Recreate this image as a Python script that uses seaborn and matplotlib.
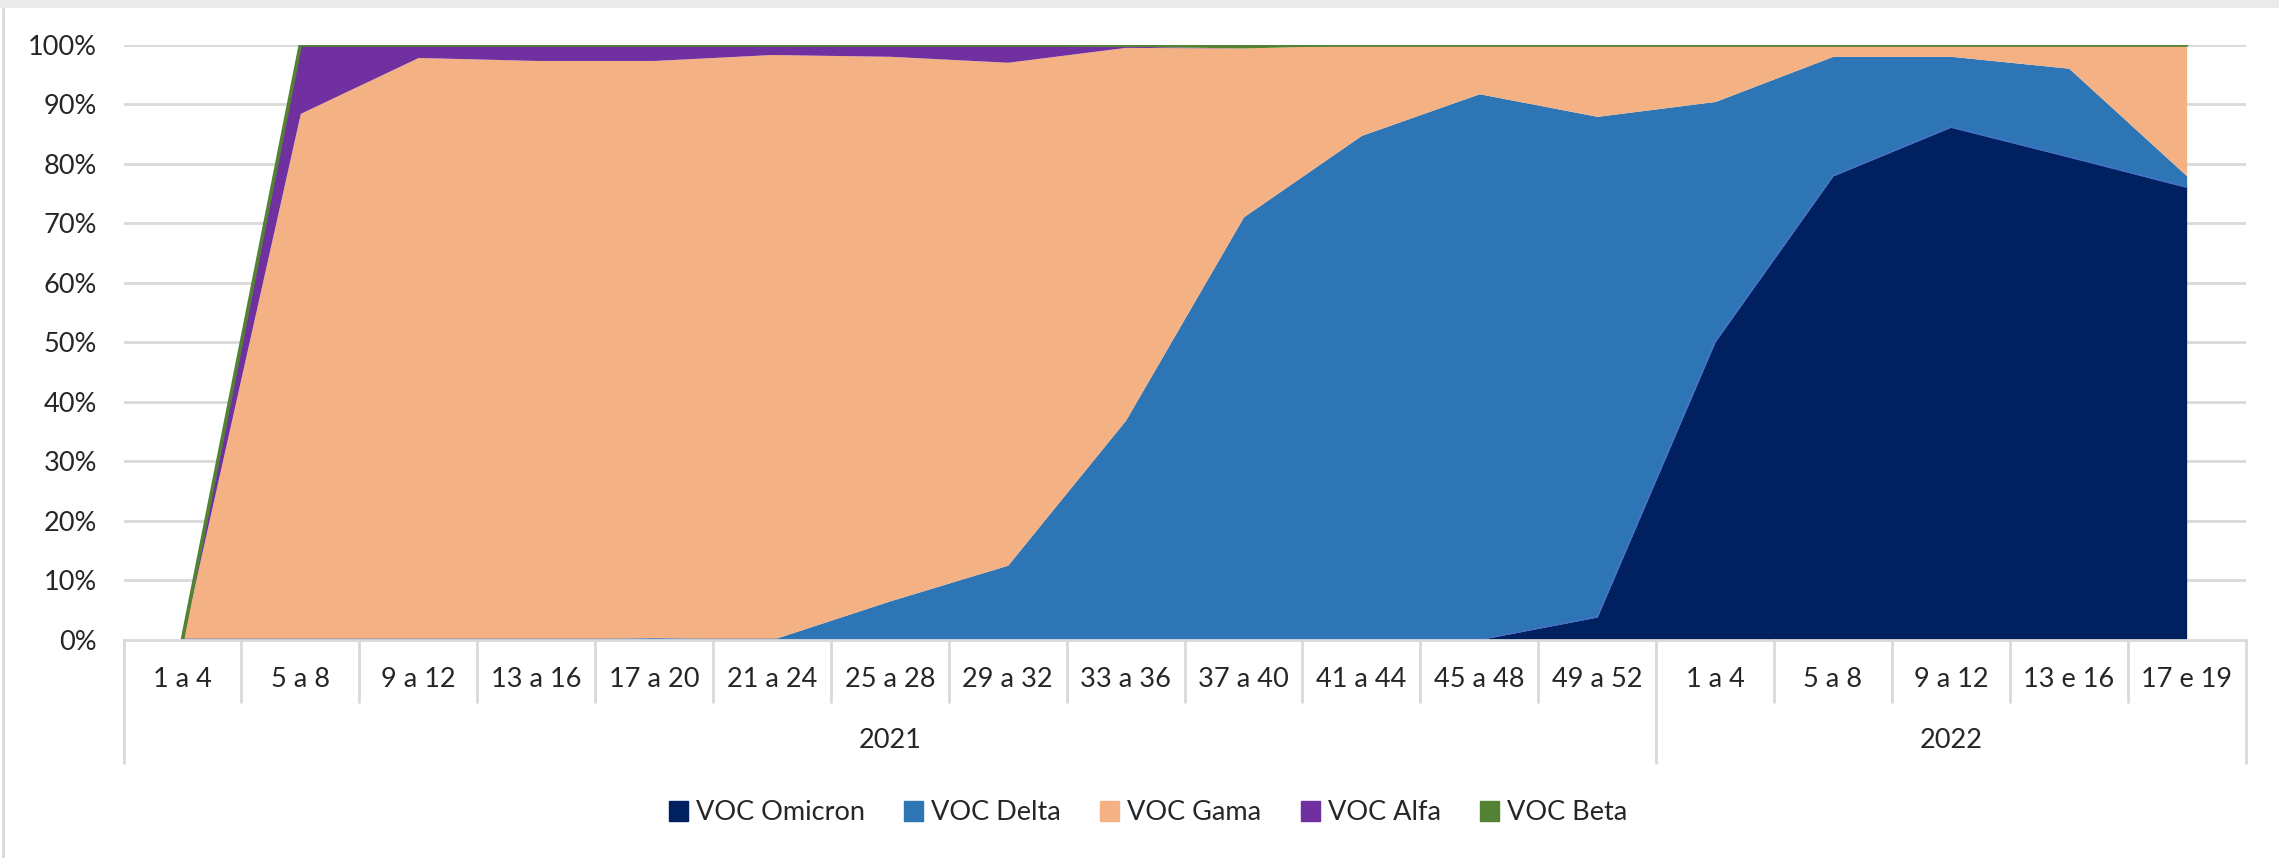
import numpy as np
import pandas as pd
import matplotlib
matplotlib.use("Agg")
import matplotlib.pyplot as plt
import matplotlib.transforms as mtransforms
from matplotlib.patches import Patch, Rectangle
from matplotlib.lines import Line2D
import seaborn as sns

# ---------------- data ----------------
week_labels = ["1 a 4", "5 a 8", "9 a 12", "13 a 16", "17 a 20", "21 a 24", "25 a 28",
               "29 a 32", "33 a 36", "37 a 40", "41 a 44", "45 a 48", "49 a 52",
               "1 a 4", "5 a 8", "9 a 12", "13 e 16", "17 e 19"]
years = ["2021"] * 13 + ["2022"] * 5
year_labels = ["2021", "2022"]

omicron = [0, 0, 0, 0, 0, 0, 0, 0, 0, 0, 0, 0, 3.8, 50.1, 78.0, 86.2, 81.2, 76.1]
delta   = [0, 0, 0, 0, 0.3, 0, 6.5, 12.5, 36.9, 71.1, 84.8, 91.8, 84.2, 40.4, 20.1, 11.9, 14.9, 1.9]
gama    = [0, 88.5, 97.9, 97.4, 97.1, 98.4, 91.6, 84.6, 62.7, 28.4, 15.2, 8.2, 12.0, 9.5, 1.9, 1.9, 3.9, 22.0]
alfa    = [0, 11.5, 2.1, 2.6, 2.6, 1.6, 1.9, 2.9, 0.2, 0, 0, 0, 0, 0, 0, 0, 0, 0]
beta    = [0, 0, 0, 0, 0, 0, 0, 0, 0.2, 0.5, 0, 0, 0, 0, 0, 0, 0, 0]

series_names = ["VOC Omicron", "VOC Delta", "VOC Gama", "VOC Alfa", "VOC Beta"]
colors = ["#002060", "#2E75B6", "#F4B183", "#7030A0", "#548235"]

df = pd.DataFrame({"semana": week_labels, "ano": years,
                   "VOC Omicron": omicron, "VOC Delta": delta, "VOC Gama": gama,
                   "VOC Alfa": alfa, "VOC Beta": beta})
vals = df[series_names].to_numpy(dtype=float).T
tot = vals.sum(axis=0)
share = np.divide(vals, tot, out=np.zeros_like(vals), where=tot > 0)
x = np.arange(len(week_labels))

# ---------------- style ----------------
sns.set_theme(style="white")
plt.rcParams["font.family"] = ["Lato", "DejaVu Sans"]
FS = 19.5
TXT = "#262626"

W, H = 2279, 858
fig = plt.figure(figsize=(W / 100, H / 100), dpi=100)
left, right = 123.5 / W, 2245.6 / W
top, bottom = 1 - 45 / H, 1 - 639.5 / H
ax = fig.add_axes([left, bottom, right - left, top - bottom])

# gridlines
for v in np.arange(0.1, 1.01, 0.1):
    ax.axhline(v, color="#D9D9D9", lw=2, zorder=0)

ax.stackplot(x, share, colors=colors, linewidth=0, zorder=2)

# omicron top edge (slightly lighter outline)
sns.lineplot(x=x, y=share[0], ax=ax, color="#4472C4", lw=1.2, zorder=3, legend=False)
# beta top edge (the 100 % line)
cum_total = share.sum(axis=0)
sns.lineplot(x=x, y=cum_total, ax=ax, color="#548235", lw=2.6, zorder=4, legend=False)

ax.set_xlim(-0.5, len(x) - 0.5)
ax.set_ylim(0, 1)
ax.set_yticks(np.arange(0, 1.01, 0.1))
ax.set_yticklabels([f"{int(round(v*100))}%" for v in np.arange(0, 1.01, 0.1)],
                   fontsize=FS, color=TXT)
ax.tick_params(axis="y", length=0, pad=19)
ax.set_xticks([])
ax.set_xlabel("")
ax.set_ylabel("")
for s in ["top", "right", "left"]:
    ax.spines[s].set_visible(False)
ax.spines["bottom"].set_color("#D9D9D9")
ax.spines["bottom"].set_linewidth(2)
ax.spines["bottom"].set_zorder(5)

# multi-level category axis
trans = mtransforms.blended_transform_factory(ax.transData, ax.transAxes)
axh = 639.5 - 45
short_y = -62 / axh
long_y = -123.5 / axh
lab_y = -40 / axh
year_y = -101.5 / axh
for i, lab in enumerate(week_labels):
    ax.text(i, lab_y, lab, transform=trans, ha="center", va="center",
            fontsize=FS, color=TXT)
year_bounds = [-0.5]
for i in range(1, len(years)):
    if years[i] != years[i - 1]:
        year_bounds.append(i - 0.5)
year_bounds.append(len(years) - 0.5)
for b in np.arange(-0.5, len(x), 1.0):
    yb = long_y if any(abs(b - yb_) < 1e-9 for yb_ in year_bounds) else short_y
    ax.add_line(Line2D([b, b], [0, yb], transform=trans, color="#D9D9D9", lw=2,
                       clip_on=False))
for k, yl in enumerate(year_labels):
    c = (year_bounds[k] + year_bounds[k + 1]) / 2
    ax.text(c, year_y, yl, transform=trans, ha="center", va="center",
            fontsize=FS, color=TXT)

# legend
handles = [Patch(facecolor=c, edgecolor=c) for c in colors]
fig.legend(handles, series_names, loc="center", bbox_to_anchor=(1148 / W, 1 - 813 / H),
           ncol=5, frameon=False, fontsize=FS, handlelength=0.7, handleheight=0.8,
           handletextpad=0.3, columnspacing=1.45, labelcolor=TXT)

# outer frame remnants
fig.add_artist(Rectangle((0, 1 - 8 / H), 1, 8 / H, transform=fig.transFigure,
                         facecolor="#EBEBEB", edgecolor="none"))
fig.add_artist(Line2D([3 / W, 3 / W], [0, 1 - 8 / H], transform=fig.transFigure,
                      color="#D9D9D9", lw=2))

fig.savefig("out.png", dpi=100, facecolor="white")
